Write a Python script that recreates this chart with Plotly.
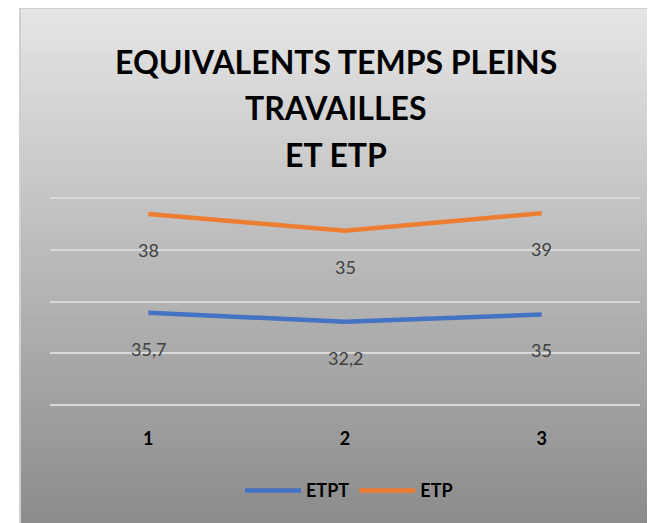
import plotly.graph_objects as go

# data (stacked line chart)
categories = ["1", "2", "3"]
etpt = [35.7, 32.2, 35]
etp = [38, 35, 39]
series_names = ["ETPT", "ETP"]
grid_ticks = [0, 20, 40, 60, 80]
title_lines = ["EQUIVALENTS TEMPS PLEINS", "TRAVAILLES", "ET ETP"]

W, H = 655, 523
# page body adds an 8px offset, so figure px = screen px - 8
pad = 2.6  # px of slack so the 0 and 80 gridlines are not clipped
L, R, T, B = 42, 23, 190 - pad, 126 - pad
blue = "#4472c4"
orange = "#ed7d31"
font = "Lato"


def fr(v):
    return f"{v}".replace(".", ",")


fig = go.Figure()

for name, vals, col in [(series_names[0], etpt, blue), (series_names[1], etp, orange)]:
    fig.add_trace(go.Scatter(x=categories, y=vals, name=name, mode="lines",
                             stackgroup="one", fill="none",
                             line=dict(color=col, width=4.5)))

# data labels below the (stacked) points
stacked = [a + b for a, b in zip(etpt, etp)]
for vals, ypos in [(etpt, etpt), (etp, stacked)]:
    for i, (v, yv) in enumerate(zip(vals, ypos)):
        fig.add_annotation(x=i, y=yv, text=fr(v), showarrow=False, yshift=-36,
                           font=dict(family=font, size=18, color="#404040"))

pw, ph = W - L - R, H - T - B

# title, one annotation per line for Excel-like line spacing
for k, line in enumerate(title_lines):
    fig.add_annotation(xref="paper", yref="paper", showarrow=False,
                       x=(327.5 - L) / pw, xanchor="center",
                       y=(H - B - (54 + 46.5 * k)) / ph, yanchor="middle",
                       text=line,
                       font=dict(family=font, size=32, color="black", weight="bold"))

# gradient chart background (paper coords relative to the plot area)
x0 = (12 - L) / pw
x1 = (W + 5 - L) / pw
top_px, bot_px = 0, H
n = 80
for i in range(n):
    ya = top_px + (bot_px - top_px) * i / n
    t = (i + 0.5) / n
    g = int(round(230 - t * (230 - 138)))
    fig.add_shape(type="rect", xref="paper", yref="paper", layer="below",
                  x0=x0, x1=x1, y0=(H - B - bot_px - 5) / ph, y1=(H - B - ya) / ph,
                  fillcolor=f"rgb({g},{g},{g})", line=dict(width=0))
fig.add_shape(type="rect", xref="paper", yref="paper", layer="below",
              x0=x0, x1=x1, y0=(H - B - bot_px - 5) / ph, y1=(H - B - top_px - 1) / ph,
              line=dict(color="#d0d0d0", width=2))

fig.update_layout(
    width=W, height=H,
    margin=dict(l=L, r=R, t=T, b=B, autoexpand=False),
    paper_bgcolor="white",
    plot_bgcolor="rgba(0,0,0,0)",
    showlegend=True,
    legend=dict(orientation="h", x=(341 - L) / pw, xanchor="center",
                y=-(482 - (H - B)) / ph, yanchor="middle", itemwidth=56,
                font=dict(family=font, size=18, color="black", weight="bold"),
                bgcolor="rgba(0,0,0,0)", traceorder="normal"),
    hovermode=False,
)
fig.update_xaxes(showgrid=False, zeroline=False, showline=False, ticks="",
                 tickfont=dict(family=font, size=18, color="black", weight="bold"),
                 ticklabelstandoff=18, range=[-0.5, 2.5])
fig.update_yaxes(range=[-1, 81], tickvals=grid_ticks, showticklabels=False,
                 gridcolor="#d9d9d9", gridwidth=1.5, zeroline=False, showline=False)

fig.write_html("out.html")
